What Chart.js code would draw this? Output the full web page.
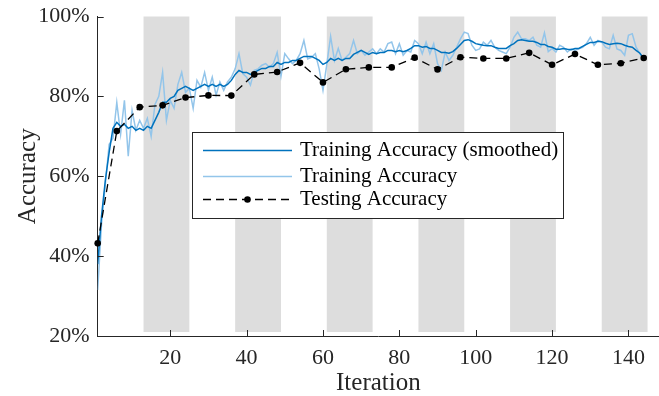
<!DOCTYPE html>
<html>
<head>
<meta charset="utf-8">
<script src="https://cdn.jsdelivr.net/npm/chart.js@4.4.0/dist/chart.umd.min.js"></script>
<style>
  html, body { margin: 0; padding: 0; background: #fff; overflow: hidden; }
  #wrap { width: 659px; height: 396px; overflow: hidden; }
</style>
</head>
<body>
<!-- canvas is a few px wider than the window: Chart.js keeps ~4px free at the right -->
<div id="wrap"><canvas id="accChart" width="663" height="396"></canvas></div>
<script>
// ---------- Data ----------
const iterations = [
  1, 2, 3, 4, 5, 6, 7, 8, 9, 10, 11, 12, 13, 14, 15, 16, 17, 18, 19, 20,
  21, 22, 23, 24, 25, 26, 27, 28, 29, 30, 31, 32, 33, 34, 35, 36, 37, 38, 39, 40,
  41, 42, 43, 44, 45, 46, 47, 48, 49, 50, 51, 52, 53, 54, 55, 56, 57, 58, 59, 60,
  61, 62, 63, 64, 65, 66, 67, 68, 69, 70, 71, 72, 73, 74, 75, 76, 77, 78, 79, 80,
  81, 82, 83, 84, 85, 86, 87, 88, 89, 90, 91, 92, 93, 94, 95, 96, 97, 98, 99, 100,
  101, 102, 103, 104, 105, 106, 107, 108, 109, 110, 111, 112, 113, 114, 115, 116, 117, 118, 119, 120,
  121, 122, 123, 124, 125, 126, 127, 128, 129, 130, 131, 132, 133, 134, 135, 136, 137, 138, 139, 140,
  141, 142, 143, 144
];

const trainAccuracy = [
  31.5, 48, 58, 68, 69.5, 78.5, 70.5, 79, 65, 76.5,
  71.5, 74, 72, 74.5, 70, 78, 80, 86, 74, 79,
  77, 83, 86, 81, 82, 77, 84, 82.3, 86, 81.5,
  84.8, 80.3, 83.6, 81.5, 83.6, 84.8, 86.9, 90.7, 85.7, 84.8,
  82.8, 86.5, 86.9, 87.8, 88.2, 87.3, 88.2, 91, 85, 90.7,
  89.4, 88.2, 89, 90.7, 94, 89.4, 89.8, 90.7, 86.9, 81.5,
  88, 95, 89, 92, 89, 89.8, 90.7, 94, 90.7, 91.5,
  90.3, 91.1, 91.9, 90.7, 91.9, 91.1, 93.2, 93.6, 90.7, 93.2,
  90.3, 91.5, 91.1, 94, 93.2, 90.7, 93.6, 90.7, 93.2, 88.2,
  86.5, 91.1, 89, 90.3, 92.3, 94.4, 96.1, 95.7, 92.8, 91.5,
  91.9, 93.6, 92.8, 94, 92.3, 91.5, 91.1, 90.7, 92.3, 94.8,
  96.1, 94.4, 94.4, 94, 94.8, 92.8, 92.3, 95.9, 91.2, 92,
  91.1, 92.8, 92.3, 91.1, 91.9, 91.5, 91.9, 92.3, 93.2, 94.8,
  92.8, 94, 93.6, 92.3, 91.9, 95.3, 91.9, 91.5, 90.3, 95.3,
  95.7, 92.3, 90.7, 89.4
];

const trainSmoothed = [
  38, 50, 59, 66, 72, 73.5, 72.5, 73, 72, 72.5,
  71.5, 72, 71.5, 72.5, 72, 74, 76, 78.5, 78.5, 79.5,
  80, 81.5, 82, 82.5, 82, 81.5, 82, 82.5, 83, 82.5,
  83, 82.5, 83, 82.5, 83, 84, 85.5, 86.5, 86, 86,
  85.5, 86, 86.5, 87, 87, 87.5, 87.5, 88.5, 88, 88.5,
  88.5, 89, 89, 89.5, 90, 90, 90, 89.5, 89, 88,
  88.5, 89.5, 89, 89.5, 89, 89.5, 89.5, 90.5, 91, 91.5,
  91, 90.5, 91, 90.7, 91, 91, 91.5, 91.5, 91.2, 91.5,
  91.2, 91.5, 92, 92.7, 92.7, 92.3, 92.5, 92, 92, 91.5,
  91, 91, 90.8, 91.2, 92, 93, 94, 94.2, 93.8, 93.2,
  93, 92.8, 92.7, 92.7, 92.3, 92, 92, 92, 92.7, 93.2,
  94, 94.2, 94, 93.8, 93.8, 93.5, 93, 93, 92.5, 92.3,
  91.8, 91.8, 92, 91.8, 91.7, 92, 92, 92.5, 93, 93.5,
  93.5, 93.8, 93.7, 93.3, 93, 93.2, 93.3, 93.2, 92.8, 92.5,
  92.3, 91.5, 90.8, 89.5
];

const testIterations = [1, 6, 12, 18, 24, 30, 36, 42, 48, 54, 60, 66, 72, 78, 84, 90, 96, 102, 108, 114, 120, 126, 132, 138, 144];
const testAccuracy = [43.2, 71.3, 77.3, 77.75, 79.7, 80.25, 80.2, 85.5, 86.1, 88.4, 83.5, 86.8, 87.25, 87.25, 89.7, 86.75, 89.8, 89.5, 89.5, 90.9, 87.9, 90.6, 87.9, 88.3, 89.6];

// shaded epochs
const bandStart = [13, 37, 61, 85, 109, 133];
const bandEnd = [25, 49, 73, 97, 121, 145];
const bandLow = 21;
const bandHigh = 100;

const xTicks = [20, 40, 60, 80, 100, 120, 140];
const yTicks = [20, 40, 60, 80, 100];

const AXIS = "#262626";
const SERIF = '"Liberation Serif", "DejaVu Serif", serif';

// ---------- Plugins ----------
const bandsPlugin = {
  id: "bands",
  beforeDatasetsDraw(chart) {
    const { ctx, scales: { x, y } } = chart;
    ctx.save();
    ctx.fillStyle = "#dddddd";
    const y0 = y.getPixelForValue(bandHigh);
    const y1 = y.getPixelForValue(bandLow);
    bandStart.forEach((s, i) => {
      const x0 = x.getPixelForValue(s);
      const x1 = x.getPixelForValue(bandEnd[i]);
      ctx.fillRect(x0, y0, x1 - x0, y1 - y0);
    });
    ctx.restore();
  }
};

// MATLAB-style ticks pointing inward
const innerTicksPlugin = {
  id: "innerTicks",
  afterDatasetsDraw(chart) {
    const { ctx, scales: { x, y } } = chart;
    ctx.save();
    ctx.strokeStyle = AXIS;
    ctx.lineWidth = 1;
    ctx.beginPath();
    xTicks.forEach(v => {
      const px = Math.round(x.getPixelForValue(v)) + 0.5;
      ctx.moveTo(px, y.bottom);
      ctx.lineTo(px, y.bottom - 6);
    });
    yTicks.forEach(v => {
      const py = Math.round(y.getPixelForValue(v)) + 0.5;
      ctx.moveTo(x.left, py);
      ctx.lineTo(x.left + 6, py);
    });
    ctx.stroke();
    ctx.restore();
  }
};

const legendOrder = [1, 2, 0];
const boxLegendPlugin = {
  id: "boxLegend",
  afterDraw(chart) {
    const ctx = chart.ctx;
    const bx = 192, by = 132, bw = 371, bh = 86;
    const rows = [150.5, 176.5, 199.5];
    ctx.save();
    ctx.fillStyle = "#fff";
    ctx.fillRect(bx, by, bw, bh);
    ctx.strokeStyle = AXIS;
    ctx.lineWidth = 1;
    ctx.strokeRect(bx + 0.5, by + 0.5, bw, bh);
    legendOrder.forEach((idx, i) => {
      const ds = chart.data.datasets[idx];
      const yy = rows[i];
      ctx.strokeStyle = ds.borderColor;
      ctx.lineWidth = ds.borderWidth;
      ctx.setLineDash(ds.borderDash || []);
      ctx.beginPath();
      ctx.moveTo(203, yy);
      ctx.lineTo(292, yy);
      ctx.stroke();
      ctx.setLineDash([]);
      if (ds.pointRadius) {
        ctx.fillStyle = ds.pointBackgroundColor;
        ctx.beginPath();
        ctx.arc(247.5, yy, ds.pointRadius, 0, Math.PI * 2);
        ctx.fill();
      }
      ctx.fillStyle = "#000";
      ctx.font = "21px " + SERIF;
      ctx.textBaseline = "middle";
      ctx.textAlign = "left";
      ctx.fillText(ds.label, 300, yy);
    });
    ctx.restore();
  }
};

function noPad(s) {
  s.paddingTop = 0;
  s.paddingBottom = 0;
  s.paddingLeft = 0;
  s.paddingRight = 0;
}

// ---------- Chart ----------
const ctx = document.getElementById("accChart").getContext("2d");
new Chart(ctx, {
  type: "line",
  data: {
    datasets: [
      {
        label: "Testing Accuracy",
        data: testIterations.map((it, i) => ({ x: it, y: testAccuracy[i] })),
        borderColor: "#000000",
        borderWidth: 1.3,
        borderDash: [8, 5],
        pointRadius: 3.3,
        pointBackgroundColor: "#000000",
        pointBorderWidth: 0,
        tension: 0,
        clip: false
      },
      {
        label: "Training Accuracy (smoothed)",
        data: iterations.map((it, i) => ({ x: it, y: trainSmoothed[i] })),
        borderColor: "#0072bd",
        borderWidth: 1.5,
        pointRadius: 0,
        tension: 0
      },
      {
        label: "Training Accuracy",
        data: iterations.map((it, i) => ({ x: it, y: trainAccuracy[i] })),
        borderColor: "#93c5ea",
        borderWidth: 1.5,
        pointRadius: 0,
        tension: 0
      }
    ]
  },
  options: {
    responsive: false,
    animation: false,
    devicePixelRatio: 1,
    layout: { padding: { top: 16.5, right: 0, bottom: 0, left: 0 } },
    plugins: {
      legend: { display: false },
      tooltip: { enabled: false }
    },
    scales: {
      x: {
        type: "linear",
        min: 1,
        max: 148,
        grid: { display: false, drawTicks: false },
        border: { display: true, color: AXIS, width: 1 },
        afterBuildTicks: s => { s.ticks = xTicks.map(v => ({ value: v })); },
        afterFit: s => { s.height = 60; noPad(s); },
        ticks: {
          color: AXIS,
          font: { family: SERIF, size: 22 },
          padding: 9,
          maxRotation: 0,
          autoSkip: false
        },
        title: {
          display: true,
          text: "Iteration",
          color: AXIS,
          font: { family: SERIF, size: 25, lineHeight: 1 },
          padding: { top: 0, bottom: 0 }
        }
      },
      y: {
        min: 20,
        max: 100,
        grid: { display: false, drawTicks: false },
        border: { display: true, color: AXIS, width: 1 },
        afterBuildTicks: s => { s.ticks = yTicks.map(v => ({ value: v })); },
        afterFit: s => { s.width = 97.7; noPad(s); },
        ticks: {
          color: AXIS,
          font: { family: SERIF, size: 22 },
          padding: 8,
          callback: v => v + "%"
        },
        title: {
          display: true,
          text: "Accuracy",
          color: AXIS,
          font: { family: SERIF, size: 25, lineHeight: 1 },
          padding: { top: 15.5, bottom: 0 }
        }
      }
    }
  },
  plugins: [bandsPlugin, innerTicksPlugin, boxLegendPlugin]
});
</script>
</body>
</html>
